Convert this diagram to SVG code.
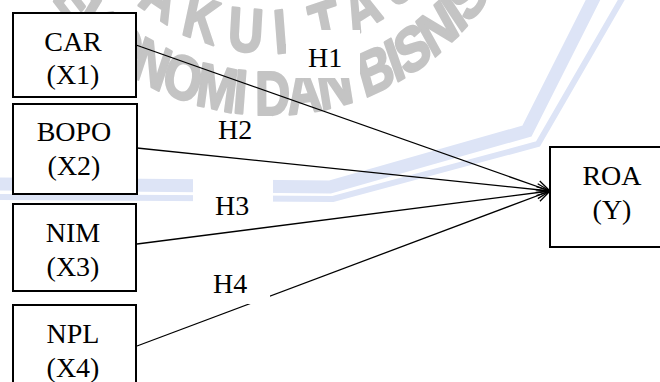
<svg xmlns="http://www.w3.org/2000/svg" width="660" height="382" viewBox="0 0 660 382">
  <style>
    .box { fill: #ffffff; stroke: #000000; stroke-width: 2; }
    .lbl { font-family: "Liberation Serif", "Times New Roman", serif; font-size: 28px; fill: #000000; }
    .mid { text-anchor: middle; }
    .edge { fill: none; stroke: #000000; stroke-width: 1.3; marker-end: url(#arrow); }
    .tag-bg { fill: #ffffff; }
    .wm-text { font-family: "Liberation Sans", Arial, sans-serif; font-weight: 700; font-size: 62px; fill: #c4c4c4; stroke: #c4c4c4; stroke-width: 2.5; stroke-linejoin: round; }
    .band { fill: none; stroke: #dde4f6; stroke-linejoin: miter; }
  </style>
  <defs>
    <!-- open V arrowhead -->
    <marker id="arrow" markerUnits="userSpaceOnUse" markerWidth="16" markerHeight="14" refX="13" refY="6" orient="auto" overflow="visible">
      <path d="M0,0 L13,6 L0,12" fill="none" stroke="#000000" stroke-width="1.3"/>
    </marker>
    <!-- baselines for the emblem lettering (drawn inside a 0.78 horizontal squeeze) -->
    <path id="arc-inner" d="M93.7,-112.3 A256.4,200 0 0 0 598.7,-112.3"/>
    <path id="arc-outer" d="M30.6,-57.4 A335.9,262 0 0 0 661.8,-57.4"/>
  </defs>

  <rect width="660" height="382" fill="#ffffff"/>

  <!-- faint background emblem -->
  <g id="watermark">
    <polyline class="band" stroke-width="13" points="-10,184 330,187 527,131 598,-10"/>
    <polyline class="band" stroke-width="6" points="-10,197 333,199 538,144 627,-10"/>
    <g transform="scale(0.78,1)">
      <text class="wm-text" letter-spacing="17.2"><textPath href="#arc-inner" startOffset="94">FAKULTAS</textPath></text>
      <text class="wm-text" letter-spacing="-2.5"><textPath href="#arc-outer" startOffset="66.2">EKONOMI DAN BISNIS</textPath></text>
    </g>
  </g>

  <!-- paths from each predictor to ROA -->
  <g id="connectors">
    <line class="edge" x1="136" y1="45" x2="550" y2="191"/>
    <line class="edge" x1="137" y1="148" x2="550" y2="191"/>
    <line class="edge" x1="137" y1="244" x2="550" y2="191"/>
    <line class="edge" x1="137" y1="346" x2="550" y2="191"/>
  </g>

  <!-- hypothesis labels on white text boxes -->
  <g id="hypothesis-labels">
    <rect class="tag-bg" x="286" y="30" width="74" height="48"/>
    <text class="lbl" x="308" y="67">H1</text>
    <rect class="tag-bg" x="200" y="116" width="72" height="34"/>
    <text class="lbl" x="218" y="139">H2</text>
    <rect class="tag-bg" x="193" y="177" width="80" height="47"/>
    <text class="lbl" x="215" y="215">H3</text>
    <rect class="tag-bg" x="193" y="258" width="77" height="46"/>
    <text class="lbl" x="213" y="293">H4</text>
  </g>

  <g id="node-car">
    <rect class="box" x="13" y="13" width="123" height="84"/>
    <text class="lbl mid" x="73" y="51">CAR</text>
    <text class="lbl mid" x="73" y="84">(X1)</text>
  </g>
  <g id="node-bopo">
    <rect class="box" x="13" y="104" width="124" height="90"/>
    <text class="lbl mid" x="74" y="141">BOPO</text>
    <text class="lbl mid" x="74" y="175">(X2)</text>
  </g>
  <g id="node-nim">
    <rect class="box" x="13" y="204" width="123" height="87"/>
    <text class="lbl mid" x="73" y="242">NIM</text>
    <text class="lbl mid" x="73" y="276">(X3)</text>
  </g>
  <g id="node-npl">
    <rect class="box" x="13" y="305" width="123" height="95"/>
    <text class="lbl mid" x="73" y="343">NPL</text>
    <text class="lbl mid" x="73" y="377">(X4)</text>
  </g>
  <g id="node-roa">
    <rect class="box" x="550" y="147" width="120" height="100"/>
    <text class="lbl mid" x="612" y="185">ROA</text>
    <text class="lbl mid" x="612" y="219">(Y)</text>
  </g>
</svg>
